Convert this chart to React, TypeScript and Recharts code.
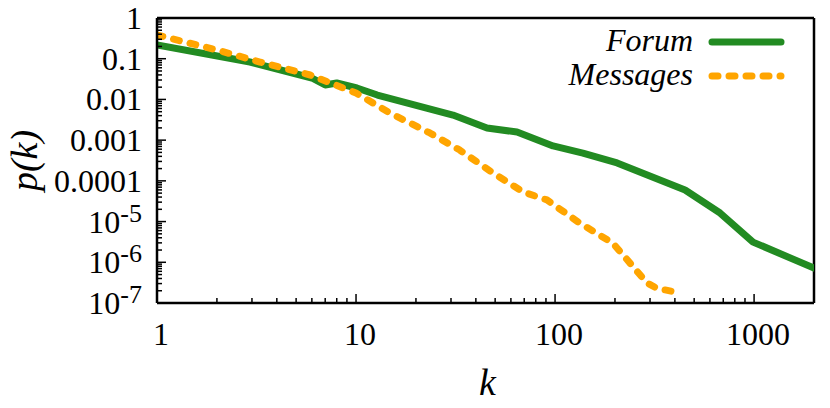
import React from 'react';
import { LineChart, Line, XAxis, YAxis, ReferenceLine, Legend } from 'recharts';

// Degree distribution p(k)
const forumK = [1, 2.93, 6.0, 7.0, 8.0, 10.1, 12.8, 30.7, 45.5, 64.4, 97.7, 138, 205, 450, 675, 988, 2000];
const forumP = [0.217, 0.083, 0.0336, 0.0226, 0.0253, 0.0191, 0.0128, 0.00414, 0.00199, 0.00158, 7.2e-4, 4.8e-4, 2.75e-4, 5.95e-5, 1.62e-5, 3.13e-6, 7.2e-7];
const messagesK = [1, 2.0, 3.29, 5.88, 10, 14.8, 23.5, 33.2, 48.8, 69.3, 91, 133, 195, 290, 325, 425];
const messagesP = [0.382, 0.164, 0.083, 0.0398, 0.0144, 0.00464, 0.0015, 5.7e-4, 1.56e-4, 5.3e-5, 3.4e-5, 9.2e-6, 2.97e-6, 3.1e-7, 2.3e-7, 1.76e-7];

const xMajor = [1, 10, 100, 1000];
const xMajorLabels = ['1', '10', '100', '1000'];
const minorMult = [2, 3, 4, 5, 6, 7, 8, 9];
const xMinorDecades = [1, 10, 100];

const yMajor = [1, 0.1, 0.01, 0.001, 0.0001, 1e-5, 1e-6, 1e-7];
const yLabelBase = ['1', '0.1', '0.01', '0.001', '0.0001', '10', '10', '10'];
const yLabelExp = ['', '', '', '', '', '-5', '-6', '-7'];
const yMinorDecades = [1e-7, 1e-6, 1e-5, 1e-4, 1e-3, 1e-2, 1e-1];

const seriesNames = ['Forum', 'Messages'];
const seriesColors = ['#228B22', '#FFA500'];
const DASH = '6 11';

const forumData = forumK.map((k, i) => ({ k, p: forumP[i] }));
const messagesData = messagesK.map((k, i) => ({ k, p: messagesP[i] }));

const xTicks = [...xMajor, ...xMinorDecades.flatMap((d) => minorMult.map((m) => m * d))].sort((a, b) => a - b);
const yTicks = [...yMajor, ...yMinorDecades.flatMap((d) => minorMult.map((m) => m * d))].sort((a, b) => a - b);

const FONT = '"Liberation Serif", "Times New Roman", serif';

const XTick = (props: any) => {
  const { x, y, payload } = props;
  const idx = xMajor.indexOf(payload.value);
  const major = idx >= 0;
  return (
    <g>
      <line x1={x} x2={x} y1={y} y2={y - (major ? 9 : 5)} stroke="#000" strokeWidth={1.5} />
      {major && (
        <text x={x + 4} y={y + 42} textAnchor="middle" fontFamily={FONT} fontSize={32} fill="#000">
          {xMajorLabels[idx]}
        </text>
      )}
    </g>
  );
};

const YTick = (props: any) => {
  const { x, y, payload } = props;
  const idx = yMajor.indexOf(payload.value);
  const major = idx >= 0;
  return (
    <g>
      <line x1={x} x2={x + (major ? 9 : 5)} y1={y} y2={y} stroke="#000" strokeWidth={1.5} />
      {major && (
        <text x={x - 15} y={y + 11} textAnchor="end" fontFamily={FONT} fontSize={32} fill="#000">
          <tspan>{yLabelBase[idx]}</tspan>
          {yLabelExp[idx] && (
            <tspan dy={-11} fontSize={26}>
              {yLabelExp[idx]}
            </tspan>
          )}
        </text>
      )}
    </g>
  );
};

const XTitle = (props: any) => {
  const { viewBox } = props;
  const cx = viewBox.x + viewBox.width / 2 + 2;
  return (
    <text x={cx} y={viewBox.y + 92} textAnchor="middle" fontFamily={FONT} fontStyle="italic" fontSize={38} fill="#000">
      k
    </text>
  );
};

const YTitle = (props: any) => {
  const { viewBox } = props;
  const cy = viewBox.y + viewBox.height / 2;
  const cx = 37;
  return (
    <text
      x={cx}
      y={cy}
      transform={`rotate(-90, ${cx}, ${cy})`}
      textAnchor="middle"
      fontFamily={FONT}
      fontStyle="italic"
      fontSize={38}
      fill="#000"
    >
      p(k)
    </text>
  );
};

const LegendBox = () => (
  <svg width={400} height={100} style={{ display: 'block' }}>
    {seriesNames.map((name, i) => (
      <g key={name}>
        <text
          x={285}
          y={43 + i * 34}
          textAnchor="end"
          fontFamily={FONT}
          fontStyle="italic"
          fontSize={32}
          fill="#000"
        >
          {name}
        </text>
        <line
          x1={304}
          x2={373}
          y1={34 + i * 34}
          y2={34 + i * 34}
          stroke={seriesColors[i]}
          strokeWidth={7}
          strokeLinecap="round"
          strokeDasharray={i === 1 ? DASH : undefined}
        />
      </g>
    ))}
  </svg>
);

export default function App() {
  return (
    <div style={{ position: 'absolute', left: 0, top: 0 }}>
      <LineChart width={830} height={408} margin={{ top: 18, right: 16, bottom: 0, left: 0 }}>
        <XAxis
          type="number"
          dataKey="k"
          scale="log"
          domain={[1, 2000]}
          allowDataOverflow
          ticks={xTicks}
          interval={0}
          tick={<XTick />}
          tickLine={false}
          tickSize={0}
          tickMargin={0}
          height={105}
          axisLine={{ stroke: '#000', strokeWidth: 2.5 }}
          label={<XTitle />}
        />
        <YAxis
          type="number"
          dataKey="p"
          scale="log"
          domain={[1e-7, 1]}
          allowDataOverflow
          ticks={yTicks}
          interval={0}
          tick={<YTick />}
          tickLine={false}
          tickSize={0}
          tickMargin={0}
          width={157}
          axisLine={{ stroke: '#000', strokeWidth: 2.5 }}
          label={<YTitle />}
        />
        <ReferenceLine y={1} stroke="#000" strokeWidth={2.5} />
        <ReferenceLine x={2000} stroke="#000" strokeWidth={2.5} />
        <Line
          data={forumData}
          dataKey="p"
          name={seriesNames[0]}
          type="linear"
          stroke={seriesColors[0]}
          strokeWidth={7}
          strokeLinejoin="round"
          strokeLinecap="round"
          dot={false}
          activeDot={false}
          isAnimationActive={false}
        />
        <Line
          data={messagesData}
          dataKey="p"
          name={seriesNames[1]}
          type="linear"
          stroke={seriesColors[1]}
          strokeWidth={7}
          strokeLinejoin="round"
          strokeLinecap="round"
          strokeDasharray={DASH}
          dot={false}
          activeDot={false}
          isAnimationActive={false}
        />
        <Legend
          layout="horizontal"
          verticalAlign="middle"
          align="center"
          content={<LegendBox />}
          wrapperStyle={{ position: 'absolute', left: 408, top: 8, width: 400, height: 100 }}
        />
      </LineChart>
    </div>
  );
}
